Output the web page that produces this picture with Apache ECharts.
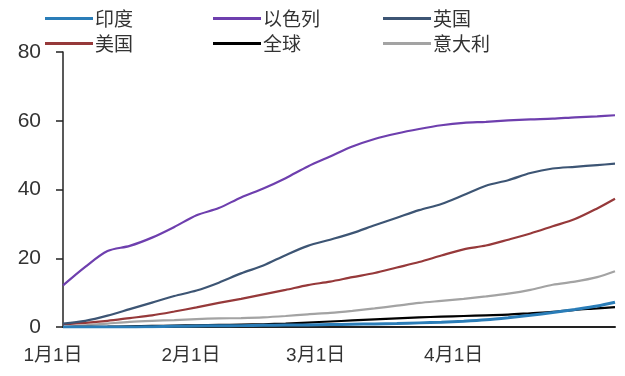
<!DOCTYPE html>
<html>
<head>
<meta charset="utf-8">
<script src="https://cdn.jsdelivr.net/npm/echarts@6/dist/echarts.min.js"></script>
<style>
html,body{margin:0;padding:0;background:#fff;}
#chart{width:625px;height:376px;}
</style>
</head>
<body>
<div id="chart"></div>
<script>
// x positions in days since 1月1日
const days = [0,5,10,15,20,25,30,35,40,45,50,55,60,65,70,75,80,85,90,95,100,105,110,115,120,124];
const xTickDays = [0,31,59,90];
const xTickLabels = ['1月1日','2月1日','3月1日','4月1日'];
const yTicks = [0,20,40,60,80];

const india  = [0,0,0,0,0.1,0.2,0.3,0.35,0.4,0.5,0.55,0.6,0.7,0.8,0.9,1.0,1.2,1.4,1.7,2.1,2.7,3.4,4.2,5.1,6.1,7.2];
const israel = [12.1,17.5,22.1,23.6,26.0,29.1,32.5,34.6,37.7,40.3,43.3,46.7,49.6,52.5,54.7,56.3,57.6,58.7,59.4,59.7,60.1,60.4,60.6,61.0,61.3,61.6];
const uk     = [1.0,1.8,3.3,5.2,7.1,9.0,10.6,12.9,15.6,17.9,20.9,23.6,25.4,27.3,29.6,31.8,34.0,35.8,38.4,41.1,42.7,44.8,46.1,46.6,47.1,47.5];
const us     = [0.8,1.2,1.8,2.6,3.4,4.5,5.7,7.0,8.2,9.5,10.8,12.2,13.2,14.5,15.7,17.3,18.9,20.8,22.6,23.7,25.4,27.2,29.3,31.4,34.5,37.3];
const world  = [0,0.05,0.1,0.2,0.3,0.4,0.5,0.6,0.7,0.8,1.0,1.3,1.6,1.9,2.2,2.5,2.8,3.0,3.2,3.4,3.6,4.0,4.4,5.0,5.4,5.8];
const italy  = [0,0.5,1.0,1.5,1.8,2.0,2.3,2.5,2.6,2.8,3.2,3.7,4.1,4.7,5.4,6.2,7.0,7.6,8.2,8.9,9.7,10.8,12.3,13.2,14.5,16.2];

const colors = {'印度':'#2a7db8','以色列':'#6e3fae','英国':'#3d5574','美国':'#96393a','全球':'#000000','意大利':'#a3a3a3'};
const values = {'印度':india,'以色列':israel,'英国':uk,'美国':us,'全球':world,'意大利':italy};
const drawOrder = ['意大利','美国','英国','以色列','全球','印度'];

function pairs(arr){ return days.map((d,i)=>[d,arr[i]]); }

const legendBase = {
  orient:'vertical', top:4, itemGap:6, itemWidth:48, itemHeight:3, icon:'rect',
  textStyle:{fontFamily:'Noto Sans CJK SC', fontSize:19, lineHeight:19, color:'#333', padding:[0,0,0,-3]}
};

const chart = echarts.init(document.getElementById('chart'), null, {renderer:'canvas'});
chart.setOption({
  animation:false,
  backgroundColor:'#fff',
  legend:[
    Object.assign({}, legendBase, {left:40, data:['印度','美国']}),
    Object.assign({}, legendBase, {left:208, data:['以色列','全球']}),
    Object.assign({}, legendBase, {left:378, data:['英国','意大利']})
  ],
  grid:{left:63, right:10, top:52, bottom:49, containLabel:false},
  xAxis:{
    type:'value', min:0, max:124,
    axisLine:{show:true, onZero:false, lineStyle:{color:'#222', width:2}},
    axisTick:{show:false},
    splitLine:{show:false},
    axisLabel:{
      customValues:xTickDays,
      formatter:function(v){ const i = xTickDays.indexOf(v); return i>=0 ? xTickLabels[i] : ''; },
      fontFamily:'Liberation Sans, Noto Sans CJK SC', fontSize:19, color:'#333',
      margin:19, padding:[0,20,0,0]
    }
  },
  yAxis:{
    type:'value', min:0, max:80, interval:20,
    axisLine:{show:true, lineStyle:{color:'#222', width:1.5}},
    axisTick:{show:true, length:7, lineStyle:{color:'#222', width:1.5}},
    splitLine:{show:false},
    axisLabel:{
      formatter:function(v){ return yTicks.indexOf(v)>=0 ? String(v) : ''; },
      fontFamily:'Liberation Sans', fontSize:21, color:'#333', margin:22
    }
  },
  series: drawOrder.map(n=>({
    name:n, type:'line', data:pairs(values[n]), showSymbol:false, symbol:'none',
    smooth:0.3,
    color:colors[n],
    lineStyle:{color:colors[n], width: n==='印度' ? 3 : 2.2}
  }))
});
</script>
</body>
</html>
